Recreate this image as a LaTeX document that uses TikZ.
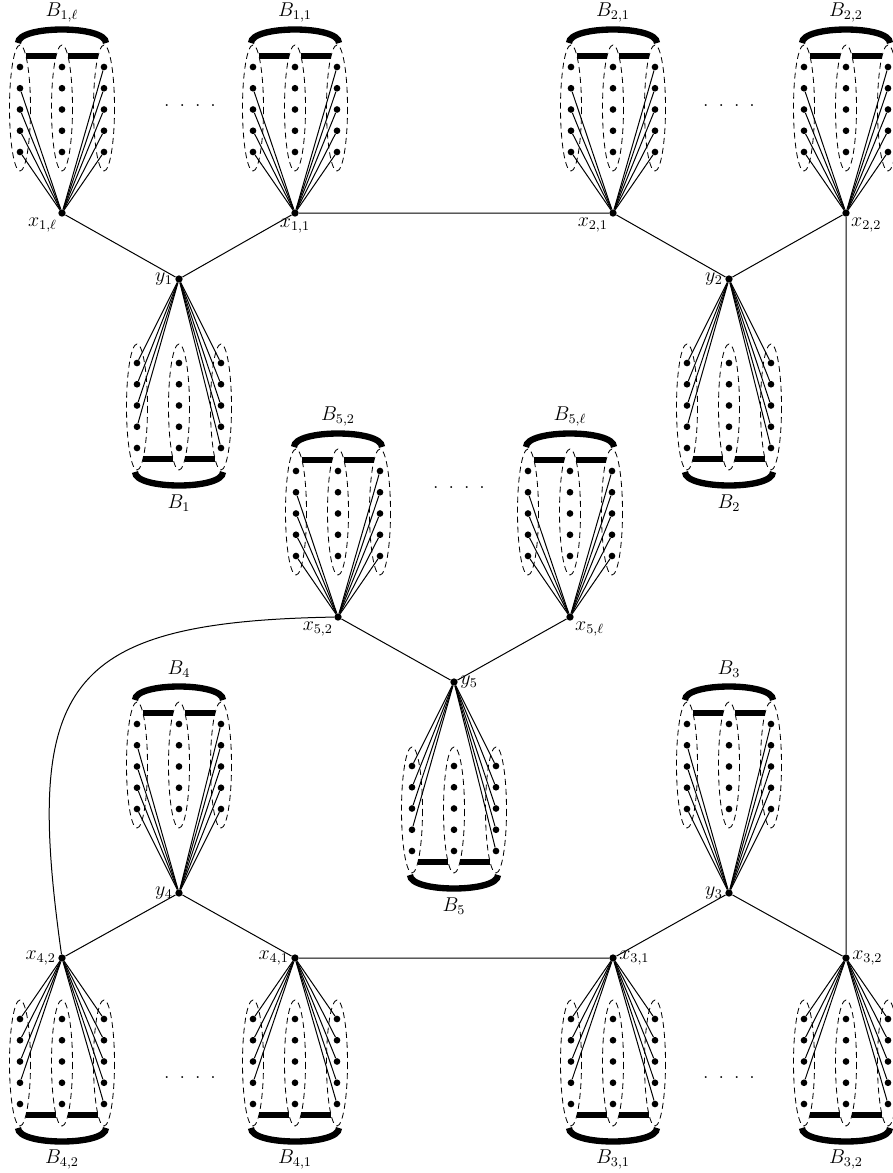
\documentclass[tikz,border=0pt]{standalone}
\usepackage{amsmath}
\usepackage{amssymb}
\usepackage{tikz}
\usepackage{xcolor}

\tikzset{
  vtx/.style={circle,fill,inner sep=0pt,minimum size=4.4pt},
  pt/.style={circle,fill,inner sep=0pt,minimum size=4pt},
  edge/.style={line width=0.6pt},
  bag/.style={line width=0.5pt,dash pattern=on 3.6pt off 2.4pt},
  bar/.style={line width=3.4pt},
  bow/.style={line width=3.8pt},
  every label/.style={inner sep=1.2pt},
}

% one bag gadget hanging off vertex #1: #2 = 1 up / -1 down, #3 = gap, #4 = label
\newcommand{\gadget}[4]{%
  \begin{scope}[shift={(#1)}]
    \foreach \cx/\cn in {-42/l,0/m,42/r} {
      \draw[bag] (\cx,{-#2*(#3+44)}) ellipse (10.5 and 63);
      \foreach \k in {0,...,4}
        \node[pt] (#1\cn\k) at (\cx,{-#2*(#3+21.25*\k)}) {};
    }
    \foreach \k in {0,...,3} \draw[edge] (#1) -- (#1l\k);
    \foreach \k in {0,...,4} \draw[edge] (#1) -- (#1r\k);
    \draw[bar] (-36,{-#2*(#3+96)}) -- (-6,{-#2*(#3+96)});
    \draw[bar] (6,{-#2*(#3+96)}) -- (36,{-#2*(#3+96)});
    \draw[bow] (-44,{-#2*(#3+109)}) .. controls +(0,{-#2*18}) and +(0,{-#2*18}) .. (44,{-#2*(#3+109)});
    \node (#1lab) at (0,{-#2*(#3+140)}) {$#4$};
  \end{scope}}

\begin{document}
\begin{tikzpicture}[x=0.6pt,y=-0.6pt,font=\fontsize{12}{14}\selectfont]
  \useasboundingbox (0,0) rectangle (892,1173);

  % top row
  \node[vtx,label=below left:$x_{1,\ell}$] (x1l) at (62,213) {};
  \node[vtx,label=below:$x_{1,1}$] (x11) at (295,213) {};
  \node[vtx,label=below left:$x_{2,1}$] (x21) at (613,213) {};
  \node[vtx,label=below right:$x_{2,2}$] (x22) at (846,213) {};
  \node[vtx,label=left:$y_1$] (y1) at (179,279) {};
  \node[vtx,label=left:$y_2$] (y2) at (729,279) {};
  % middle
  \node[vtx,label=below left:$x_{5,2}$] (x52) at (338,617) {};
  \node[vtx,label=below right:$x_{5,\ell}$] (x5l) at (570,617) {};
  \node[vtx,label=right:$y_5$] (y5) at (454,682) {};
  % bottom row
  \node[vtx,label=left:$y_4$] (y4) at (179,893) {};
  \node[vtx,label=left:$y_3$] (y3) at (729,893) {};
  \node[vtx,label=left:$x_{4,2}$] (x42) at (62,958) {};
  \node[vtx,label=left:$x_{4,1}$] (x41) at (295,958) {};
  \node[vtx,label=right:$x_{3,1}$] (x31) at (613,958) {};
  \node[vtx,label=right:$x_{3,2}$] (x32) at (846,958) {};

  \draw[edge] (x1l) -- (y1) -- (x11) -- (x21) -- (y2) -- (x22) -- (x32)
    -- (y3) -- (x31) -- (x41) -- (y4) -- (x42);
  \draw[edge] (x52) -- (y5) -- (x5l);
  \draw[edge] (x42) to[out=98,in=181,looseness=1.6] (x52);

  \gadget{x1l}{1}{61}{B_{1,\ell}}
  \gadget{x11}{1}{61}{B_{1,1}}
  \gadget{x21}{1}{61}{B_{2,1}}
  \gadget{x22}{1}{61}{B_{2,2}}
  \gadget{y1}{-1}{84}{B_1}
  \gadget{y2}{-1}{84}{B_2}
  \gadget{x52}{1}{61}{B_{5,2}}
  \gadget{x5l}{1}{61}{B_{5,\ell}}
  \gadget{y5}{-1}{84}{B_5}
  \gadget{y4}{1}{84}{B_4}
  \gadget{y3}{1}{84}{B_3}
  \gadget{x42}{-1}{61}{B_{4,2}}
  \gadget{x41}{-1}{61}{B_{4,1}}
  \gadget{x31}{-1}{61}{B_{3,1}}
  \gadget{x32}{-1}{61}{B_{3,2}}

  \node (gap1) at (190,106) {.\enspace.\enspace.\enspace.};
  \node (gap2) at (729,106) {.\enspace.\enspace.\enspace.};
  \node (gap3) at (459,488) {.\enspace.\enspace.\enspace.};
  \node (gap4) at (190,1078) {.\enspace.\enspace.\enspace.};
  \node (gap5) at (729,1078) {.\enspace.\enspace.\enspace.};
\end{tikzpicture}
\end{document}
